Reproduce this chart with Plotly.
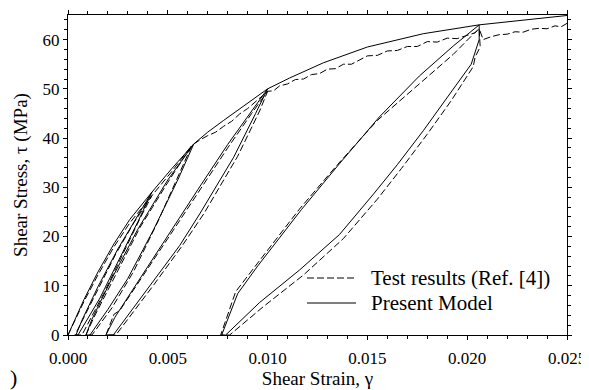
import plotly.graph_objects as go

# ---------------- Present Model (solid) ----------------
m_env1_x = [0, 0.0008, 0.0015, 0.0023, 0.0031, 0.0042]
m_env1_y = [0, 7.2, 12.8, 18.5, 23.5, 29.0]
m_unA_x = [0.0042, 0.0035, 0.0026, 0.0016, 0.0005]
m_unA_y = [29.0, 23.0, 15.6, 7.5, 0]
m_reA_x = [0.0004, 0.0007, 0.0015, 0.0025, 0.0034, 0.0042]
m_reA_y = [0, 3.0, 9.8, 17.5, 23.6, 29.0]
m_env2_x = [0.0042, 0.0052, 0.0063]
m_env2_y = [29.0, 33.8, 38.8]
m_unB_x = [0.0063, 0.0055, 0.0043, 0.0030, 0.0020, 0.0011]
m_unB_y = [38.8, 31.5, 21.5, 11.5, 5.2, 0]
m_reB_x = [0.0009, 0.0012, 0.0022, 0.0035, 0.0050, 0.0063]
m_reB_y = [0, 3.2, 11.5, 21.5, 31.5, 38.8]
m_env3_x = [0.0063, 0.0070, 0.0078, 0.0090, 0.0100]
m_env3_y = [38.8, 41.2, 43.6, 47.0, 50.0]
m_unC_x = [0.0100, 0.0094, 0.0083, 0.0066, 0.0056, 0.0041, 0.0031, 0.00227]
m_unC_y = [50.0, 45.0, 36.1, 24.6, 18.2, 10.0, 4.6, 0]
m_reC_x = [0.0019, 0.00235, 0.0035, 0.0050, 0.0065, 0.0080, 0.0092, 0.0100]
m_reC_y = [0, 3.6, 10.8, 20.2, 29.5, 38.7, 45.6, 50.0]
m_env4_x = [0.0100, 0.0111, 0.0128, 0.0150, 0.0178, 0.0206]
m_env4_y = [50.0, 52.2, 55.3, 58.5, 61.2, 63.0]
m_unD_x = [0.0206, 0.0206, 0.0202, 0.0190, 0.0178, 0.0165, 0.0153, 0.0136, 0.0116, 0.0096, 0.0079]
m_unD_y = [63.0, 60.0, 55.0, 48.3, 41.5, 34.6, 28.6, 20.4, 13.2, 6.6, 0]
m_reD_x = [0.0077, 0.0085, 0.0095, 0.0117, 0.0136, 0.0156, 0.0176, 0.0193, 0.0206]
m_reD_y = [0, 8.4, 14.0, 25.5, 34.8, 44.3, 52.6, 58.7, 63.0]
m_env5_x = [0.0206, 0.0250]
m_env5_y = [63.0, 64.9]

# ---------------- Test results (dashed) ----------------
t_env1_x = [0, 0.0008, 0.0015, 0.0023, 0.0031, 0.0042]
t_env1_y = [0, 6.8, 12.2, 17.9, 22.8, 28.3]
t_unA_x = [0.0042, 0.0036, 0.0028, 0.0018, 0.0007]
t_unA_y = [28.3, 23.6, 16.8, 8.5, 0]
t_reA_x = [0.00035, 0.0006, 0.0014, 0.0024, 0.0033, 0.0042]
t_reA_y = [0, 2.0, 8.5, 16.5, 22.8, 28.3]
t_env2_x = [0.0042, 0.0052, 0.0062]
t_env2_y = [28.3, 33.2, 38.5]
t_unB_x = [0.0062, 0.0056, 0.0045, 0.0033, 0.0022, 0.0012]
t_unB_y = [38.5, 33.0, 23.0, 13.0, 5.5, 0]
t_reB_x = [0.0009, 0.0013, 0.0023, 0.0036, 0.0050, 0.0062]
t_reB_y = [0, 3.6, 11.6, 21.8, 31.0, 38.5]
t_env3_x = [0.0062, 0.0066, 0.0070, 0.0074, 0.0078, 0.0082, 0.0086, 0.0090, 0.0095, 0.0100]
t_env3_y = [38.5, 39.6, 40.5, 41.2, 42.4, 43.4, 44.9, 46.0, 47.8, 49.5]
t_unC_x = [0.0100, 0.0096, 0.0085, 0.0068, 0.0057, 0.0043, 0.0033, 0.0024]
t_unC_y = [49.5, 45.5, 36.3, 24.6, 18.0, 10.2, 4.8, 0]
t_reC_x = [0.0019, 0.0023, 0.0026, 0.0035, 0.0050, 0.0065, 0.0080, 0.0092, 0.0100]
t_reC_y = [0, 4.2, 5.0, 10.4, 19.6, 28.8, 38.0, 45.0, 49.5]
t_env4_x = [0.0100, 0.0103, 0.0106, 0.0110, 0.0114, 0.0118, 0.0122, 0.0126, 0.0130,
            0.0134, 0.0138, 0.0142, 0.0146, 0.0150, 0.0155, 0.0160, 0.0165, 0.0170,
            0.0175, 0.0180, 0.0185, 0.0190, 0.0195, 0.0200, 0.0204]
t_env4_y = [49.5, 49.6, 50.6, 51.0, 51.9, 52.0, 52.9, 53.1, 54.0, 54.1, 55.0, 55.0,
            55.9, 56.7, 56.8, 57.7, 57.8, 58.6, 58.6, 59.6, 59.5, 60.3, 60.2, 60.9, 61.4]
t_unD_x = [0.0206, 0.02065, 0.0204, 0.0203, 0.0192, 0.0180, 0.0167, 0.0155, 0.0138, 0.0118, 0.0098, 0.0081]
t_unD_y = [62.2, 58.5, 56.5, 54.5, 47.6, 40.8, 33.8, 27.6, 19.6, 12.2, 5.8, 0]
t_reD_x = [0.00765, 0.0084, 0.0095, 0.0116, 0.0135, 0.0155, 0.0176, 0.0193, 0.0204, 0.0206]
t_reD_y = [0, 8.8, 14.6, 25.6, 34.6, 43.6, 51.0, 57.0, 61.5, 62.2]
t_env5_x = [0.0206, 0.0208, 0.0212, 0.0216, 0.0220, 0.0224, 0.0228, 0.0232, 0.0236,
            0.0240, 0.0244, 0.0247, 0.0250]
t_env5_y = [62.2, 60.0, 60.6, 61.0, 61.1, 61.6, 61.5, 62.1, 62.3, 62.2, 62.8, 62.6, 63.3]

def chain(*segs):
    xs, ys = [], []
    for sx, sy in segs:
        xs += list(sx)
        ys += list(sy)
    return xs, ys

mx, my = chain((m_env1_x, m_env1_y), (m_unA_x, m_unA_y), (m_reA_x, m_reA_y),
               (m_env2_x, m_env2_y), (m_unB_x, m_unB_y), (m_reB_x, m_reB_y),
               (m_env3_x, m_env3_y), (m_unC_x, m_unC_y), (m_reC_x, m_reC_y),
               (m_env4_x, m_env4_y), (m_unD_x, m_unD_y), (m_reD_x, m_reD_y),
               (m_env5_x, m_env5_y))
tx, ty = chain((t_env1_x, t_env1_y), (t_unA_x, t_unA_y), (t_reA_x, t_reA_y),
               (t_env2_x, t_env2_y), (t_unB_x, t_unB_y), (t_reB_x, t_reB_y),
               (t_env3_x, t_env3_y), (t_unC_x, t_unC_y), (t_reC_x, t_reC_y),
               (t_env4_x, t_env4_y), (t_unD_x, t_unD_y), (t_reD_x, t_reD_y),
               (t_env5_x, t_env5_y))

FONT = "Liberation Serif"
fig = go.Figure()
fig.add_trace(go.Scatter(x=tx, y=ty, mode="lines", name="Test results (Ref. [4])",
                         line=dict(color="black", width=1, dash="7px,3px"),
                         showlegend=False))
fig.add_trace(go.Scatter(x=mx, y=my, mode="lines", name="Present Model",
                         line=dict(color="black", width=1), showlegend=False))

# page has an 8px body margin; figure sized so the plot area lands where the reference has it
W, H = 581, 382
L, R, T, B = 60, 22, 7, 55
pw, ph = W - L - R, H - T - B
OFF = 8

def px2paper(x, y):
    # x, y in page pixels of the reference
    return (x - OFF - L) / pw, (H - B - (y - OFF)) / ph

# manual legend
legend_items = [("Test results (Ref. [4])", "7px,3px", 278), ("Present Model", "solid", 303)]
for label, dash, yy in legend_items:
    x0, y0 = px2paper(307, yy)
    x1, _ = px2paper(356, yy)
    fig.add_shape(type="line", xref="paper", yref="paper", x0=x0, x1=x1, y0=y0, y1=y0,
                  line=dict(color="black", width=1, dash=dash))
    tx0, _ = px2paper(369, yy)
    fig.add_annotation(xref="paper", yref="paper", x=tx0, y=y0, text=label,
                       showarrow=False, xanchor="left", yanchor="middle",
                       font=dict(family=FONT, size=21, color="black"))

ax, ay = px2paper(8, 377)
fig.add_annotation(xref="paper", yref="paper", x=ax, y=ay, text=")", showarrow=False,
                   xanchor="left", yanchor="middle",
                   font=dict(family=FONT, size=22, color="black"))

axis_common = dict(showline=True, linecolor="black", linewidth=1, mirror="allticks",
                   ticks="outside", ticklen=4, tickcolor="black", tickwidth=1,
                   showgrid=False, zeroline=False,
                   tickfont=dict(family=FONT, size=17, color="black"))
fig.update_xaxes(range=[0, 0.025], dtick=0.005, tick0=0, tickformat=".3f",
                 ticklabelstandoff=4, ticklabeloverflow="allow",
                 minor=dict(dtick=0.001, ticks="outside", ticklen=3, tickcolor="black", showgrid=False),
                 title=dict(text="Shear Strain, γ", font=dict(family=FONT, size=19, color="black"), standoff=0),
                 **axis_common)
fig.update_yaxes(range=[0, 65], dtick=10, tick0=0,
                 minor=dict(dtick=2, ticks="outside", ticklen=3, tickcolor="black", showgrid=False),
                 title=dict(text="Shear Stress, τ (MPa)", font=dict(family=FONT, size=19, color="black"), standoff=9),
                 **axis_common)
fig.update_layout(width=W, height=H, margin=dict(l=L, r=R, t=T, b=B, autoexpand=False),
                  plot_bgcolor="white", paper_bgcolor="white", showlegend=False)
fig.write_html("out.html")
